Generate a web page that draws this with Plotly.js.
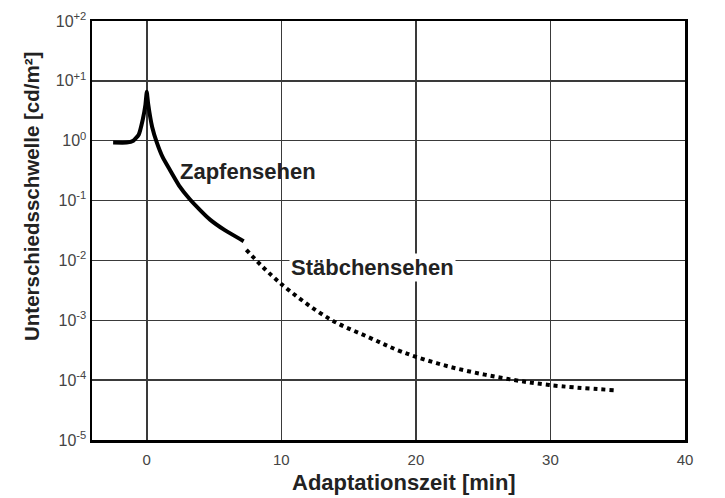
<!DOCTYPE html>
<html>
<head>
<meta charset="utf-8">
<script src="https://cdn.plot.ly/plotly-3.0.1.min.js"></script>
<style>
  html, body { margin: 0; padding: 0; background: #fff; }
  #plot { width: 725px; height: 498px; }
</style>
</head>
<body>
<div id="plot"></div>
<script>
// Zapfensehen (cone vision), solid
const coneTime = [-2.5, -1.5, -1.0, -0.6, -0.3, -0.1, 0, 0.1, 0.4, 0.75, 1.2, 1.7, 2.4, 3.2, 4.0, 4.7, 5.8, 7.2];
const coneThreshold = [0.93, 0.93, 1.0, 1.26, 2.24, 3.98, 6.6, 4.17, 1.7, 0.93, 0.52, 0.33, 0.178, 0.105, 0.068, 0.048, 0.032, 0.021];

// Stäbchensehen (rod vision), dotted
const rodTime = [7.4, 9.85, 13.6, 16.5, 19, 22.4, 26.1, 29.9, 34.7];
const rodThreshold = [0.015, 0.0043, 0.00105, 0.00052, 0.000295, 0.00017, 0.000112, 0.000083, 0.000068];

// tick labels
const xTicks = [0, 10, 20, 30, 40];
const yTickVals = [1e-5, 1e-4, 1e-3, 1e-2, 1e-1, 1e0, 1e1, 1e2];
const yTickText = ['10<sup>-5</sup>', '10<sup>-4</sup>', '10<sup>-3</sup>', '10<sup>-2</sup>',
                   '10<sup>-1</sup>', '10<sup>0</sup>', '10<sup>+1</sup>', '10<sup>+2</sup>'];

const font = 'Liberation Sans, Arial, sans-serif';

const data = [
    {
        x: coneTime,
        y: coneThreshold,
        type: 'scatter',
        mode: 'lines',
        line: { color: 'black', width: 4, shape: 'spline', smoothing: 0.4 },
        hoverinfo: 'skip'
    },
    {
        x: rodTime,
        y: rodThreshold,
        type: 'scatter',
        mode: 'lines',
        line: { color: 'black', width: 4, dash: 'dot', shape: 'spline' },
        hoverinfo: 'skip'
    }
];

const layout = {
    width: 725,
    height: 498,
    margin: { l: 92, r: 40, t: 21, b: 58 },
    paper_bgcolor: 'white',
    plot_bgcolor: 'white',
    showlegend: false,
    font: { family: font, color: '#333' },
    xaxis: {
        range: [-4.07, 40],
        tickvals: xTicks,
        ticktext: xTicks.map(String),
        tickfont: { size: 15, color: '#444' },
        ticklabelstandoff: 4,
        showgrid: true,
        gridcolor: '#3a3a3a',
        gridwidth: 1.5,
        zeroline: false,
        showline: true,
        linecolor: 'black',
        linewidth: 2.5,
        mirror: true,
        ticks: ''
    },
    yaxis: {
        type: 'log',
        range: [-5, 2],
        tickvals: yTickVals,
        ticktext: yTickText,
        tickfont: { size: 16, color: '#444' },
        showgrid: true,
        gridcolor: '#3a3a3a',
        gridwidth: 1.5,
        zeroline: false,
        showline: true,
        linecolor: 'black',
        linewidth: 2.5,
        mirror: true,
        ticks: ''
    },
    annotations: [
        {
            // x axis title
            x: 404, y: 482, xref: 'paper', yref: 'paper',
            text: '<b>Adaptationszeit [min]</b>',
            showarrow: false,
            xanchor: 'center', yanchor: 'middle',
            font: { size: 22, color: '#222', family: font }
        },
        {
            // y axis title
            x: 32, y: 197, xref: 'paper', yref: 'paper',
            text: '<b>Unterschiedsschwelle [cd/m²]</b>',
            textangle: -90,
            showarrow: false,
            xanchor: 'center', yanchor: 'middle',
            font: { size: 20.5, color: '#222', family: font }
        },
        {
            x: 2.3, y: -0.52, xref: 'x', yref: 'y',
            text: '<b>Zapfensehen</b>',
            showarrow: false,
            xanchor: 'left', yanchor: 'middle',
            font: { size: 22, color: '#222', family: font }
        },
        {
            x: 16.8, y: -2.12, xref: 'x', yref: 'y',
            text: '<b>Stäbchensehen</b>',
            showarrow: false,
            xanchor: 'center', yanchor: 'middle',
            bgcolor: 'white',
            borderpad: 1,
            font: { size: 22, color: '#222', family: font }
        }
    ]
};

// convert pixel positions of the axis titles to paper fractions
const plotW = layout.width - layout.margin.l - layout.margin.r;
const plotH = layout.height - layout.margin.t - layout.margin.b;
layout.annotations.slice(0, 2).forEach(a => {
    a.x = (a.x - layout.margin.l) / plotW;
    a.y = (layout.height - layout.margin.b - a.y) / plotH;
});

Plotly.newPlot('plot', data, layout, { staticPlot: true });
</script>
</body>
</html>
